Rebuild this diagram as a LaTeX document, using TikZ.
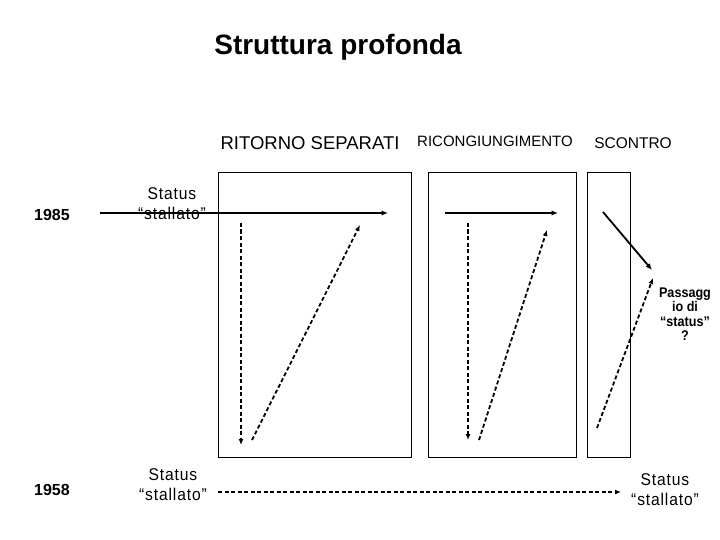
\documentclass[tikz,border=0pt]{standalone}
\usepackage{fontspec}
\setmainfont{Liberation Sans}
\newfontfamily\narrowsans[FakeStretch=0.9]{Liberation Sans}
\newfontfamily\statusfont[FakeStretch=0.92,LetterSpace=5]{Liberation Sans}
\usetikzlibrary{arrows.meta}
\tikzset{
  box/.style={draw, line width=1pt, inner sep=0pt, minimum height=284pt},
  solidarrow/.style={line width=1.8pt, -{Latex[length=6.5pt,width=5.5pt]}},
  dasharrow/.style={line width=1.8pt, dash pattern=on 4pt off 2.5pt, -{Latex[length=6pt,width=5pt]}},
  lbl/.style={inner sep=0pt, align=center},
  statuslbl/.style={lbl, font=\statusfont\fontsize{17}{20}\selectfont},
}
\begin{document}
\begin{tikzpicture}[x=1pt,y=-1pt]
\useasboundingbox (0,0) rectangle (720,540);
% title and headers
\node[lbl, font=\fontsize{28}{32}\selectfont\bfseries] (title) at (338,47) {Struttura profonda};
\node[lbl, font=\fontsize{18.5}{21}\selectfont] (h1) at (310,143) {RITORNO SEPARATI};
\node[lbl, font=\fontsize{15}{17}\selectfont] (h2) at (495,141) {RICONGIUNGIMENTO};
\node[lbl, font=\fontsize{15.5}{18}\selectfont] (h3) at (633,143) {SCONTRO};
% boxes
\node[box, minimum width=193pt] (b1) at (314.5,315) {};
\node[box, minimum width=148pt] (b2) at (502,315) {};
\node[box, minimum width=43pt] (b3) at (608.5,315) {};
% years
\node[lbl, font=\fontsize{16}{18}\selectfont\bfseries] (y1) at (52,215) {1985};
\node[lbl, font=\fontsize{16}{18}\selectfont\bfseries] (y2) at (52,490) {1958};
% status labels
\node[statuslbl] (s1) at (172,204) {Status\\“stallato”};
\node[statuslbl] (s2) at (173,485) {Status\\“stallato”};
\node[statuslbl] (s3) at (665,490) {Status\\“stallato”};
\node[lbl, font=\narrowsans\fontsize{14}{14.5}\selectfont\bfseries] (pq) at (685,314) {Passagg\\io di\\“status”\\?};
% arrow endpoints
\coordinate (a1s) at (100,213); \coordinate (a1e) at (388,213);
\coordinate (a2s) at (445,213); \coordinate (a2e) at (558,213);
\coordinate (a3s) at (603,212); \coordinate (a3e) at (652,270);
\coordinate (d1s) at (241,223); \coordinate (d1e) at (241,445);
\coordinate (d2s) at (252,440); \coordinate (d2e) at (360,225);
\coordinate (d3s) at (468,223); \coordinate (d3e) at (468,440);
\coordinate (d4s) at (479,440); \coordinate (d4e) at (547,230);
\coordinate (d5s) at (597,428); \coordinate (d5e) at (653,278);
\coordinate (d6s) at (218,492); \coordinate (d6e) at (621,492);
% arrows
\draw[solidarrow] (a1s) -- (a1e);
\draw[solidarrow] (a2s) -- (a2e);
\draw[solidarrow] (a3s) -- (a3e);
\draw[dasharrow] (d1s) -- (d1e);
\draw[dasharrow] (d2s) -- (d2e);
\draw[dasharrow] (d3s) -- (d3e);
\draw[dasharrow] (d4s) -- (d4e);
\draw[dasharrow] (d5s) -- (d5e);
\draw[dasharrow] (d6s) -- (d6e);
\end{tikzpicture}
\end{document}
